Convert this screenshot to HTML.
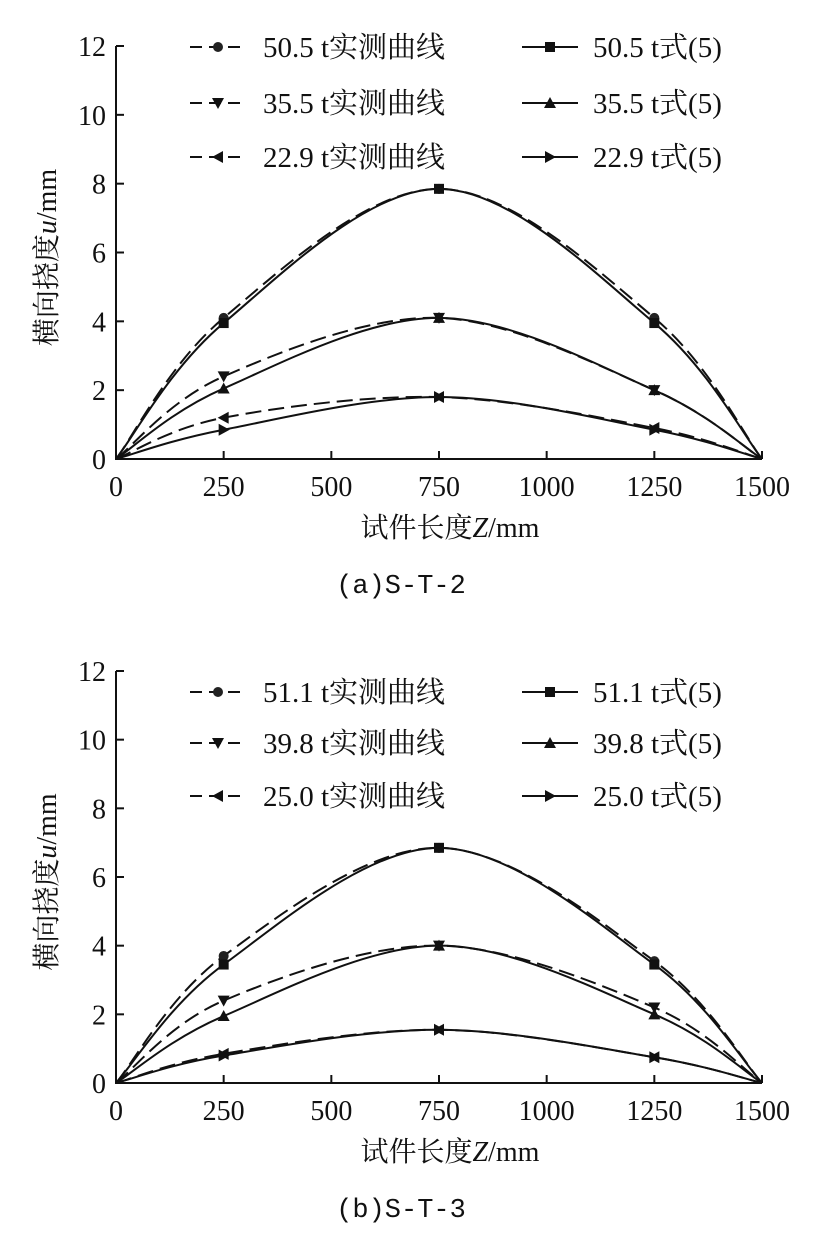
<!DOCTYPE html>
<html><head><meta charset="utf-8"><style>
body{margin:0;background:#fff;}
svg text{font-family:"Liberation Serif","Noto Serif CJK SC",serif;fill:#111;}
</style></head><body>
<svg id="fig" width="818" height="1249" viewBox="0 0 818 1249" xmlns="http://www.w3.org/2000/svg"></svg>
<script>
const xCats=[0,250,750,1250,1500];
const xTicks=[0,250,500,750,1000,1250,1500];
const yTicks=[0,2,4,6,8,10,12];
// Chart (a) S-T-2
const aLabels=["50.5 t","35.5 t","22.9 t"];
const aMeas1=[0,4.1,7.85,4.1,0];
const aCalc1=[0,3.95,7.85,3.95,0];
const aMeas2=[0,2.4,4.1,2.0,0];
const aCalc2=[0,2.05,4.1,2.0,0];
const aMeas3=[0,1.2,1.8,0.9,0];
const aCalc3=[0,0.85,1.8,0.85,0];
// Chart (b) S-T-3
const bLabels=["51.1 t","39.8 t","25.0 t"];
const bMeas1=[0,3.7,6.85,3.55,0];
const bCalc1=[0,3.45,6.85,3.45,0];
const bMeas2=[0,2.4,4.0,2.2,0];
const bCalc2=[0,1.95,4.0,2.0,0];
const bMeas3=[0,0.85,1.55,0.75,0];
const bCalc3=[0,0.8,1.55,0.75,0];

const NS="http://www.w3.org/2000/svg";
const svg=document.getElementById('fig');
function mk(tag,attrs,parent){const e=document.createElementNS(NS,tag);for(const k in attrs)e.setAttribute(k,attrs[k]);(parent||svg).appendChild(e);return e;}

function marker(g,type,x,y){
  let e;const s=6;
  if(type==='circle')e=mk('circle',{cx:x,cy:y,r:5,fill:'#222'},g);
  else if(type==='square')e=mk('rect',{x:x-5,y:y-5,width:10,height:10,fill:'#111'},g);
  else{let p;
    if(type==='down')p=[[x-s,y-s+1],[x+s,y-s+1],[x,y+s]];
    if(type==='up')p=[[x-s,y+s-1],[x+s,y+s-1],[x,y-s]];
    if(type==='left')p=[[x+s-1,y-s],[x+s-1,y+s],[x-s,y]];
    if(type==='right')p=[[x-s+1,y-s],[x-s+1,y+s],[x+s,y]];
    e=mk('polygon',{points:p.map(q=>q.join(',')).join(' '),fill:'#111'},g);}
  
  
}
function smoothPath(pts){
  let d=`M${pts[0][0]},${pts[0][1]}`;
  for(let i=0;i<pts.length-1;i++){
    const p0=pts[Math.max(0,i-1)],p1=pts[i],p2=pts[i+1],p3=pts[Math.min(pts.length-1,i+2)];
    const t=6;
    const c1=[p1[0]+(p2[0]-p0[0])/t,p1[1]+(p2[1]-p0[1])/t];
    const c2=[p2[0]-(p3[0]-p1[0])/t,p2[1]-(p3[1]-p1[1])/t];
    d+=` C${c1[0]},${c1[1]} ${c2[0]},${c2[1]} ${p2[0]},${p2[1]}`;
  }
  return d;
}
function chart(id,y0,y12,labels,series,caption,legY){
  const g=mk('g',{});
  
  
  const X0=116,X1=762;
  const sx=v=>X0+(v/1500)*(X1-X0);
  const sy=v=>y0-(v/12)*(y0-y12);
  const ax=mk('path',{d:`M${X0},${sy(12)} L${X0},${y0} L${X1},${y0}`,stroke:'#111','stroke-width':2,fill:'none'},g);
  
  
  yTicks.forEach(v=>{
    mk('line',{x1:X0,x2:X0+8,y1:sy(v),y2:sy(v),stroke:'#111','stroke-width':2},g);
    const t=mk('text',{x:X0-10,y:sy(v)+10,'font-size':28,'text-anchor':'end'},g);t.textContent=v;
    
    
  });
  xTicks.forEach(v=>{
    mk('line',{x1:sx(v),x2:sx(v),y1:y0,y2:y0-8,stroke:'#111','stroke-width':2},g);
    const t=mk('text',{x:sx(v),y:y0+37,'font-size':28,'text-anchor':'middle'},g);t.textContent=v;
    
    
  });
  const xt=mk('text',{x:450,y:y0+78,'font-size':28,'text-anchor':'middle'},g);
  xt.innerHTML='试件长度<tspan font-style="italic">Z</tspan>/mm';
  
  
  const yc=(y0+y12)/2+5;
  const yt=mk('text',{x:0,y:0,'font-size':28,'text-anchor':'middle',transform:`translate(56,${yc}) rotate(-90)`},g);
  yt.innerHTML='横向挠度<tspan font-style="italic">u</tspan>/mm';
  
  
  const cp=mk('text',{x:401,y:y0+134,'font-size':27,'text-anchor':'middle','style':'font-family:"Liberation Mono","Noto Serif CJK SC",monospace;'},g);cp.textContent=caption;
  
  
  series.forEach((s,i)=>{
    const pts=xCats.map((c,j)=>[sx(c),sy(s.vals[j])]);
    const p=mk('path',{d:smoothPath(pts),fill:'none',stroke:'#111','stroke-width':2,'stroke-dasharray':s.dash?'16,7':'none'},g);
    
    
    for(let j=1;j<4;j++)marker(g,s.m,pts[j][0],pts[j][1]);
    const row=Math.floor(i/2),col=i%2;
    const ly=legY[row];
    const lx=col===0?190:522;
    const ll=mk('line',{x1:lx,x2:lx+56,y1:ly,y2:ly,stroke:'#111','stroke-width':2,'stroke-dasharray':s.dash?'12,7':'none'},g);
    
    
    marker(g,s.m,lx+28,ly);
    const lt=mk('text',{x:col===0?263:593,y:ly+10,'font-size':29},g);
    lt.textContent=labels[row]+(s.dash?'实测曲线':'式(5)');
    
    
  });
}
chart('a',459,46,aLabels,[
 {vals:aMeas1,dash:true,m:'circle'},{vals:aCalc1,dash:false,m:'square'},
 {vals:aMeas2,dash:true,m:'down'},{vals:aCalc2,dash:false,m:'up'},
 {vals:aMeas3,dash:true,m:'left'},{vals:aCalc3,dash:false,m:'right'}],'(a)S-T-2',[47,103,157]);
chart('b',1083,671,bLabels,[
 {vals:bMeas1,dash:true,m:'circle'},{vals:bCalc1,dash:false,m:'square'},
 {vals:bMeas2,dash:true,m:'down'},{vals:bCalc2,dash:false,m:'up'},
 {vals:bMeas3,dash:true,m:'left'},{vals:bCalc3,dash:false,m:'right'}],'(b)S-T-3',[692,743,796]);
</script>
</body></html>
